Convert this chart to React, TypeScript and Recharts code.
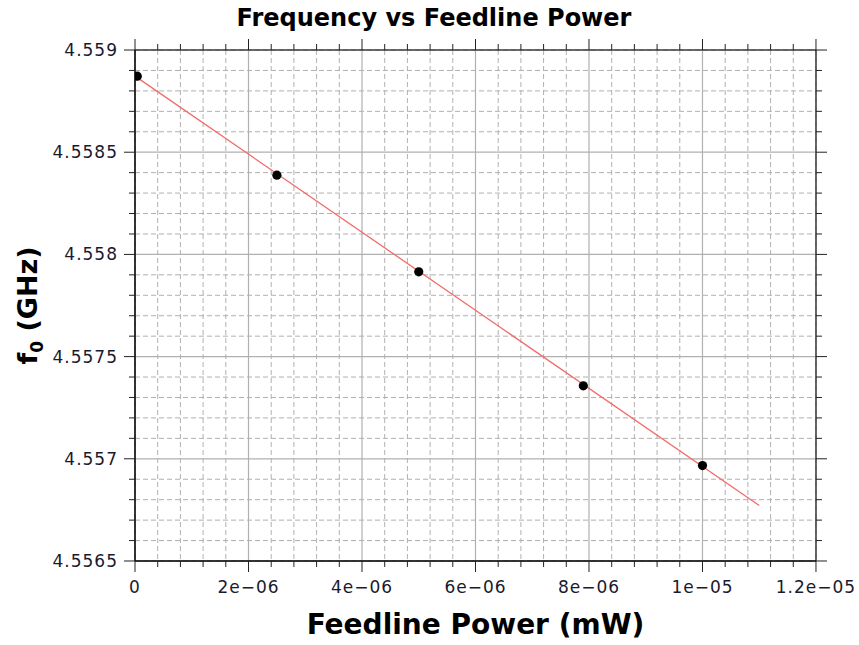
import React from 'react';
import { ScatterChart, Scatter, XAxis, YAxis, CartesianGrid, Customized, Label } from 'recharts';

// Measured data points (Feedline power in mW, resonance frequency in GHz)
const powerMW = [0.00000004, 0.0000025, 0.000005, 0.0000079, 0.00001];
const freqGHz = [4.558872, 4.5583875, 4.557915, 4.557357, 4.556967];

// Linear fit line end points
const fitPowerMW = [0, 0.000011];
const fitFreqGHz = [4.5588724, 4.5567718];

// Axis ticks and labels
const xTicks = [0, 2e-6, 4e-6, 6e-6, 8e-6, 1e-5, 1.2e-5];
const xTickLabels = ['0', '2e\u221206', '4e\u221206', '6e\u221206', '8e\u221206', '1e\u221205', '1.2e\u221205'];
const xMinorTicks = [
  4e-7, 8e-7, 1.2e-6, 1.6e-6, 2.4e-6, 2.8e-6, 3.2e-6, 3.6e-6, 4.4e-6, 4.8e-6, 5.2e-6, 5.6e-6,
  6.4e-6, 6.8e-6, 7.2e-6, 7.6e-6, 8.4e-6, 8.8e-6, 9.2e-6, 9.6e-6, 1.04e-5, 1.08e-5, 1.12e-5, 1.16e-5,
];
const yTicks = [4.5565, 4.557, 4.5575, 4.558, 4.5585, 4.559];
const yTickLabels = ['4.5565', '4.557', '4.5575', '4.558', '4.5585', '4.559'];
const yMinorTicks = [
  4.5566, 4.5567, 4.5568, 4.5569, 4.5571, 4.5572, 4.5573, 4.5574, 4.5576, 4.5577, 4.5578, 4.5579,
  4.5581, 4.5582, 4.5583, 4.5584, 4.5586, 4.5587, 4.5588, 4.5589,
];

const xDomain: [number, number] = [0, 1.2e-5];
const yDomain: [number, number] = [4.5565, 4.559];

const points = powerMW.map((x, i) => ({ x, y: freqGHz[i] }));
const fit = fitPowerMW.map((x, i) => ({ x, y: fitFreqGHz[i] }));

const FONT = '"DejaVu Sans", sans-serif';
const GRID = '#b0b0b0';
const TINY = 0.01;

const fmtX = (v: number) => {
  const i = xTicks.findIndex((t) => Math.abs(t - v) < 1e-9);
  return i >= 0 ? xTickLabels[i] : '';
};
const fmtY = (v: number) => {
  const i = yTicks.findIndex((t) => Math.abs(t - v) < 1e-7);
  return i >= 0 ? yTickLabels[i] : '';
};
const blank = () => '';

const tickStyle = { fontFamily: FONT, fontSize: 17, fill: '#1a1a2e', letterSpacing: 1 };
const noLabel = { fontSize: 1, fill: 'none' };

const Title = () => (
  <text x={434} y={26} textAnchor="middle" fontFamily={FONT} fontWeight="bold" fontSize={24} fill="#000">
    Frequency vs Feedline Power
  </text>
);

export default function App() {
  return (
    <div style={{ position: 'absolute', left: 0, top: 0, width: 859, height: 645, background: '#fff' }}>
      <ScatterChart width={859} height={645} margin={{ top: 50, right: 43, bottom: 44, left: 15 }}>
        {/* main bottom axis */}
        <XAxis xAxisId="xb" type="number" dataKey="x" domain={xDomain} ticks={xTicks} interval={0}
          orientation="bottom" height={40} tickFormatter={fmtX} tick={tickStyle} tickSize={11} tickMargin={9}
          axisLine={{ stroke: '#000', strokeWidth: 1.5 }} tickLine={{ stroke: '#222' }} allowDataOverflow>
          <Label
            content={(p: any) => {
              const vb = p.viewBox || { x: 135, y: 561, width: 681, height: 40 };
              return (
                <text x={vb.x + vb.width / 2} y={vb.y + 73} textAnchor="middle" fontFamily={FONT}
                  fontWeight="bold" fontSize={28} fill="#000">
                  Feedline Power (mW)
                </text>
              );
            }}
          />
        </XAxis>
        {/* minor bottom ticks */}
        <XAxis xAxisId="xa" type="number" dataKey="x" domain={xDomain} ticks={xMinorTicks} interval={0}
          orientation="bottom" height={TINY} tick={noLabel} tickFormatter={blank} axisLine={false} tickSize={6}
          tickLine={{ stroke: '#222' }} allowDataOverflow />
        {/* top frame axis */}
        <XAxis xAxisId="xd" type="number" dataKey="x" domain={xDomain} ticks={xTicks} interval={0}
          orientation="top" height={TINY} tick={noLabel} tickFormatter={blank} tickSize={11}
          axisLine={{ stroke: '#000', strokeWidth: 1 }} tickLine={{ stroke: '#222' }} allowDataOverflow />
        <XAxis xAxisId="xc" type="number" dataKey="x" domain={xDomain} ticks={xMinorTicks} interval={0}
          orientation="top" height={TINY} tick={noLabel} tickFormatter={blank} axisLine={false} tickSize={6}
          tickLine={{ stroke: '#222' }} allowDataOverflow />

        {/* main left axis */}
        <YAxis yAxisId="yb" type="number" dataKey="y" domain={yDomain} ticks={yTicks} interval={0}
          orientation="left" width={120} tickFormatter={fmtY} tick={tickStyle} tickSize={11} tickMargin={6}
          axisLine={{ stroke: '#000', strokeWidth: 1.5 }} tickLine={{ stroke: '#222' }} allowDataOverflow>
          <Label
            content={(p: any) => {
              const vb = p.viewBox || { x: 15, y: 50, width: 120, height: 511 };
              const cx = vb.x + 22;
              const cy = vb.y + vb.height / 2;
              return (
                <text x={cx} y={cy} transform={`rotate(-90, ${cx}, ${cy})`} textAnchor="middle"
                  fontFamily={FONT} fontWeight="bold" fontSize={27} fill="#000">
                  f<tspan fontSize={17} dy={6}>0</tspan>
                  <tspan dy={-6}> (GHz)</tspan>
                </text>
              );
            }}
          />
        </YAxis>
        <YAxis yAxisId="ya" type="number" dataKey="y" domain={yDomain} ticks={yMinorTicks} interval={0}
          orientation="left" width={TINY} tick={noLabel} tickFormatter={blank} axisLine={false} tickSize={6}
          tickLine={{ stroke: '#222' }} allowDataOverflow />
        {/* right frame axis */}
        <YAxis yAxisId="yd" type="number" dataKey="y" domain={yDomain} ticks={yTicks} interval={0}
          orientation="right" width={TINY} tick={noLabel} tickFormatter={blank} tickSize={11}
          axisLine={{ stroke: '#000', strokeWidth: 1 }} tickLine={{ stroke: '#222' }} allowDataOverflow />
        <YAxis yAxisId="yc" type="number" dataKey="y" domain={yDomain} ticks={yMinorTicks} interval={0}
          orientation="right" width={TINY} tick={noLabel} tickFormatter={blank} axisLine={false} tickSize={6}
          tickLine={{ stroke: '#222' }} allowDataOverflow />

        <CartesianGrid xAxisId="xa" yAxisId="ya" stroke={GRID} strokeDasharray="5 3" strokeWidth={1} />
        <CartesianGrid xAxisId="xb" yAxisId="yb" stroke={GRID} strokeWidth={1.2} />

        <Scatter xAxisId="xb" yAxisId="yb" data={fit} isAnimationActive={false}
          line={{ stroke: '#f26b6b', strokeWidth: 1.3 }} shape={() => <g />} />
        <Scatter xAxisId="xb" yAxisId="yb" data={points} isAnimationActive={false}
          shape={(p: any) => <circle cx={p.cx} cy={p.cy} r={4.6} fill="#000" />} />

        <Customized component={Title} />
      </ScatterChart>
    </div>
  );
}
